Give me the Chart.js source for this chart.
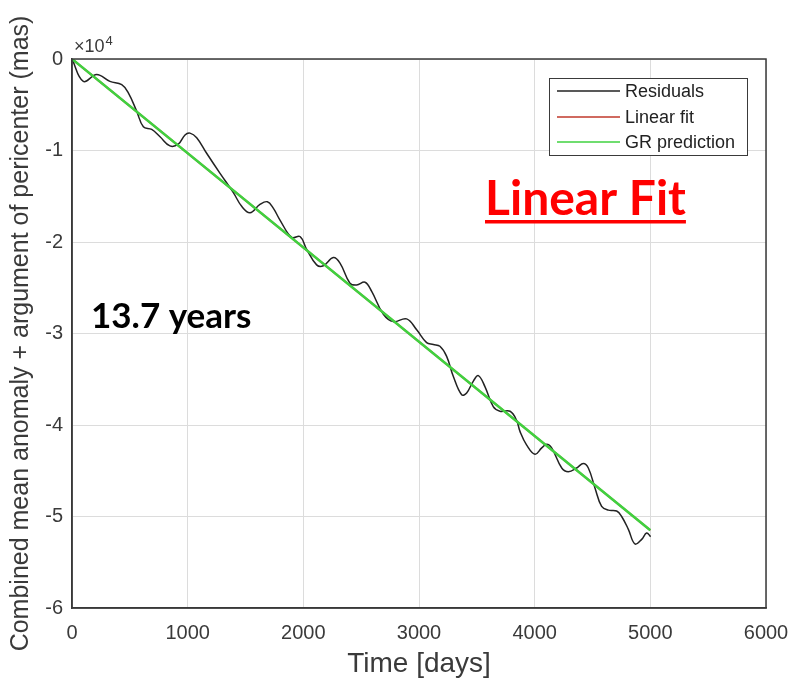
<!DOCTYPE html>
<html>
<head>
<meta charset="utf-8">
<script src="https://cdn.jsdelivr.net/npm/chart.js@4"></script>
<style>
  html, body { margin: 0; padding: 0; background: #fff; }
  #wrap { width: 791px; height: 681px; }
</style>
</head>
<body>
<div id="wrap"><canvas id="grafica"></canvas></div>
<script>
// Datos (dias, mas)
var dias = [0, 98, 213, 328, 430, 487, 559, 617, 689, 761, 847, 919, 977, 1020, 1078, 1164, 1280, 1395, 1467, 1539, 1625, 1689, 1740, 1798, 1900, 1971, 2029, 2115, 2173, 2259, 2317, 2403, 2461, 2533, 2591, 2692, 2778, 2893, 2980, 3066, 3124, 3181, 3239, 3297, 3369, 3412, 3470, 3513, 3570, 3642, 3700, 3787, 3844, 3873, 3931, 4003, 4061, 4104, 4147, 4234, 4291, 4363, 4421, 4464, 4522, 4579, 4637, 4709, 4752, 4810, 4867, 4925, 4968, 5003];
var residuos = [0, -2450, -1700, -2450, -2800, -3700, -5700, -7400, -7700, -8500, -9500, -9300, -8300, -8100, -8600, -10300, -12500, -14600, -16100, -16800, -15900, -15600, -16300, -17600, -19500, -19400, -20800, -22500, -22600, -21700, -22300, -24500, -24700, -24400, -25400, -27900, -28700, -28400, -29600, -31000, -31200, -31400, -32500, -34700, -36700, -36500, -35200, -34600, -35800, -38000, -38500, -38500, -39500, -40700, -42200, -43200, -42500, -42100, -42500, -44700, -45100, -44700, -44200, -44700, -46900, -48900, -49300, -49400, -50000, -51400, -53000, -52500, -51800, -52200];
var diasAjuste = [0, 5000];
var ajusteLineal = [0, -51500];
var prediccionGR = [0, -51500];
var ticksX = [0, 1000, 2000, 3000, 4000, 5000, 6000];
var ticksY = [0, -10000, -20000, -30000, -40000, -50000, -60000];

function puntos(xs, ys) {
  var out = [];
  for (var i = 0; i < xs.length; i++) out.push({ x: xs[i], y: ys[i] });
  return out;
}

var fuente = '"Liberation Sans", Arial, sans-serif';
var gris = '#3a3a3a';

// Plugin: caja del eje, leyenda y textos
var extras = {
  id: 'extras',
  afterDraw: function (chart) {
    var ctx = chart.ctx;
    var a = chart.chartArea;
    ctx.save();
    // caja alrededor del area
    ctx.strokeStyle = '#3a3a3a';
    ctx.lineWidth = 1.5;
    ctx.strokeRect(a.left, a.top, a.right - a.left, a.bottom - a.top);

    // x10^4
    ctx.fillStyle = gris;
    ctx.textBaseline = 'middle';
    ctx.textAlign = 'left';
    ctx.font = '18px ' + fuente;
    ctx.fillText('\u00d710', 74, 47);
    var w0 = ctx.measureText('\u00d710').width;
    ctx.font = '13px ' + fuente;
    ctx.fillText('4', 75 + w0, 41);

    // leyenda
    var lx = 549, ly = 78, lw = 198, lh = 77;
    ctx.fillStyle = '#fff';
    ctx.fillRect(lx, ly, lw, lh);
    ctx.strokeStyle = '#3a3a3a';
    ctx.lineWidth = 1;
    ctx.strokeRect(lx + 0.5, ly + 0.5, lw, lh);
    var filas = [91, 117, 142];
    ctx.font = '18px ' + fuente;
    chart.data.datasets.forEach(function (ds, i) {
      ctx.strokeStyle = ds.borderColor;
      ctx.lineWidth = 1.5;
      ctx.beginPath();
      ctx.moveTo(557, filas[i]);
      ctx.lineTo(620, filas[i]);
      ctx.stroke();
      ctx.fillStyle = '#222';
      ctx.fillText(ds.label, 625, filas[i] + 1);
    });

    // textos de la diapositiva
    ctx.font = 'bold 48px Lato, "Open Sans", sans-serif';
    ctx.fillStyle = '#ff0000';
    ctx.textBaseline = 'alphabetic';
    ctx.fillText('Linear Fit', 485, 215);
    var w = ctx.measureText('Linear Fit').width;
    ctx.fillRect(485, 220, w, 3.5);

    ctx.font = 'bold 35px Lato, "Open Sans", sans-serif';
    ctx.fillStyle = '#000';
    ctx.fillText('13.7 years', 91, 328);
    ctx.restore();
  }
};

new Chart(document.getElementById('grafica'), {
  type: 'line',
  data: {
    datasets: [{
      label: 'Residuals',
      data: puntos(dias, residuos),
      borderColor: '#222222',
      borderWidth: 1.5,
      pointRadius: 0,
      tension: 0.4,
      order: 1
    }, {
      label: 'Linear fit',
      data: puntos(diasAjuste, ajusteLineal),
      borderColor: '#c0392b',
      borderWidth: 2,
      pointRadius: 0,
      order: 2
    }, {
      label: 'GR prediction',
      data: puntos(diasAjuste, prediccionGR),
      borderColor: '#3fd23f',
      borderWidth: 2.5,
      pointRadius: 0,
      order: 0
    }]
  },
  options: {
    responsive: true,
    maintainAspectRatio: false,
    animation: false,
    layout: { padding: { left: 0, top: 59, right: 25, bottom: 0 } },
    plugins: { legend: { display: false }, tooltip: { enabled: false } },
    scales: {
      x: {
        type: 'linear',
        min: 0,
        max: 6000,
        afterBuildTicks: function (s) { s.ticks = ticksX.map(function (v) { return { value: v }; }); },
        afterFit: function (s) { s.height = 73; s.paddingRight = 0; },
        grid: { color: '#dcdcdc', drawTicks: false, lineWidth: 1 },
        border: { color: '#3a3a3a', width: 1.5 },
        ticks: {
          color: gris,
          font: { family: fuente, size: 20 },
          padding: 13,
          maxRotation: 0,
          callback: function (v) { return String(v); }
        },
        title: { display: true, text: 'Time [days]', color: gris, font: { family: fuente, size: 28 }, padding: { top: 0, bottom: 0 } }
      },
      y: {
        type: 'linear',
        min: -60000,
        max: 0,
        afterBuildTicks: function (s) { s.ticks = ticksY.map(function (v) { return { value: v }; }); },
        afterFit: function (s) { s.width = 72; },
        grid: { color: '#dcdcdc', drawTicks: false, lineWidth: 1 },
        border: { color: '#3a3a3a', width: 1.5 },
        ticks: {
          color: gris,
          font: { family: fuente, size: 20 },
          padding: 9,
          callback: function (v) { return v === 0 ? '0' : '-' + Math.abs(v / 10000); }
        },
        title: { display: true, text: 'Combined mean anomaly + argument of pericenter (mas)', color: gris, font: { family: fuente, size: 25 }, padding: { top: 6, bottom: 0 } }
      }
    }
  },
  plugins: [extras]
});
</script>
</body>
</html>
